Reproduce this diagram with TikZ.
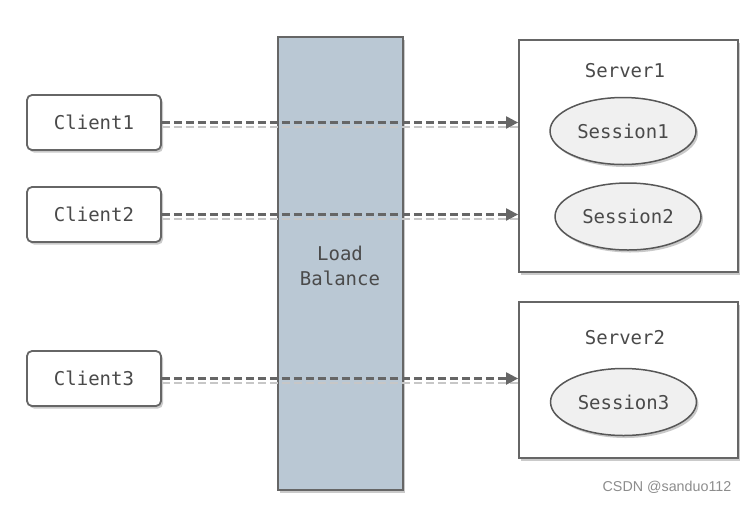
\documentclass[tikz,border=0pt]{standalone}
\usepackage{fontspec}
\setmonofont{DejaVu Sans Mono}
\newfontfamily\wmfont{Liberation Sans}
\usetikzlibrary{shapes.geometric,shadows,arrows.meta}
\definecolor{txt}{HTML}{4A4A4A}
\definecolor{edge}{HTML}{666666}
\definecolor{lbfill}{HTML}{BAC8D4}
\definecolor{sessfill}{HTML}{F0F0F0}
\tikzset{
  sh/.style={drop shadow={shadow xshift=2pt,shadow yshift=-2.5pt,fill=black!35,opacity=0.6}},
  txtfont/.style={font=\ttfamily\fontsize{19}{25}\selectfont,text=txt},
  client/.style={draw=edge,line width=1.8pt,rounded corners=5pt,fill=white,sh,
    minimum width=134pt,minimum height=55pt,inner sep=0pt,txtfont},
  lb/.style={draw=edge,line width=1.8pt,fill=lbfill,sh,minimum width=125pt,minimum height=453pt,
    inner sep=0pt},
  server/.style={draw=edge,line width=1.8pt,fill=white,sh,minimum width=219pt,inner sep=0pt},
  sess/.style={ellipse,draw=edge!85!black,line width=1.5pt,fill=sessfill,sh,
    minimum width=146pt,minimum height=67pt,inner sep=0pt,txtfont},
  lbl/.style={txtfont,align=center},
  link/.style={draw=edge,line width=2.2pt,dash pattern=on 8pt off 4pt,
    -{Triangle[length=12pt,width=12pt]},
    preaction={draw=black!22,line width=2pt,dash pattern=on 8pt off 4pt,-,
      transform canvas={yshift=-4pt}}},
}
\begin{document}
\begin{tikzpicture}[x=1pt,y=-1pt]
\useasboundingbox (0,0) rectangle (746,504);
\node[lb] (lb) at (340.5,263.5) {};
\node[lbl] (lbt) at (340,266) {Load\\Balance};
\node[client] (c1) at (94,122.5) {Client1};
\node[client] (c2) at (94,214.5) {Client2};
\node[client] (c3) at (94,378.5) {Client3};
\node[server,minimum height=232pt] (s1) at (628.5,156) {};
\node[server,minimum height=156pt] (s2) at (628.5,380) {};
\node[lbl] (s1t) at (625,71) {Server1};
\node[lbl] (s2t) at (625,338) {Server2};
\node[sess] (e1) at (623,131) {Session1};
\node[sess] (e2) at (628,216.5) {Session2};
\node[sess] (e3) at (623.5,402) {Session3};
\draw[link] (c1.east) -- (c1.east -| s1.west);
\draw[link] (c2.east) -- (c2.east -| s1.west);
\draw[link] (c3.east) -- (c3.east -| s2.west);
\node[font=\wmfont\fontsize{14.3}{16}\selectfont,text=black!45] (wm) at (667,487) {CSDN @sanduo112};
\end{tikzpicture}
\end{document}
